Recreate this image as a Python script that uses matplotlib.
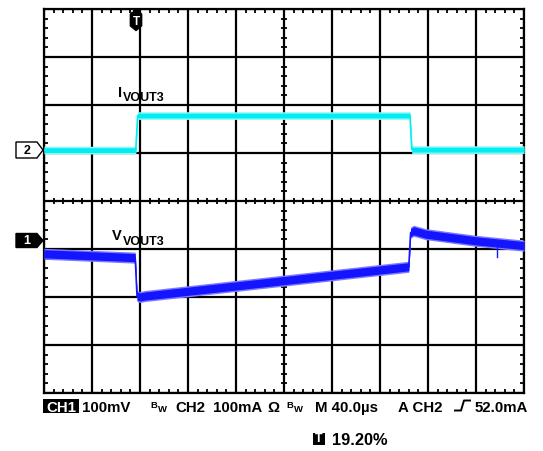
import numpy as np
import matplotlib
matplotlib.use('Agg')
import matplotlib.pyplot as plt
from matplotlib.patches import Polygon, Rectangle
from matplotlib.lines import Line2D

plt.rcParams['font.family'] = ['Liberation Sans', 'DejaVu Sans']

# scope settings
time_per_div = 40.0      # us
ch1_per_div = 100.0      # mV
ch2_per_div = 100.0      # mA
ch1_offset = -0.82       # divisions from centre
ch2_offset = 1.06

# CH1: V_VOUT3 (mV, relative to CH1 marker)
t_v = [0, 76.0, 77.5, 80.0, 84.0, 304.0, 305.5, 308.0, 318.0, 360.0, 400.0]
v_v = [-28, -36, -116, -118, -116, -55, 16, 20, 13, -1, -11]
# small glitch on CH1
t_glitch = [377.5, 377.5]
v_glitch = [-4, -34]

# CH2: I_VOUT3 (mA, relative to CH2 marker)
t_i = [0, 76.5, 78.0, 305.0, 306.5, 400.0]
i_i = [0, 0, 72, 72, 1, 1]

W, H = 543, 452
fig = plt.figure(figsize=(W / 100, H / 100), dpi=100)
ax = fig.add_axes([44 / W, 1 - 394 / H, 480 / W, 384 / H])
ax.set_xlim(0, 10 * time_per_div)
ax.set_ylim(-4, 4)


def fx(x):
    return x / W


def fy(y):
    return 1 - y / H


# graticule
ax.set_xticks(np.arange(0, 401, time_per_div))
ax.set_yticks(np.arange(-4, 5, 1))
ax.set_xticks(np.arange(0, 401, time_per_div / 5), minor=True)
ax.set_yticks(np.arange(-4, 4.01, 0.2), minor=True)
ax.grid(True, which='major', color='black', lw=1.6, zorder=1)
ax.tick_params(which='both', direction='in', length=3, width=1.3,
               top=True, right=True, labelbottom=False, labelleft=False,
               color='black')
for s in ax.spines.values():
    s.set_linewidth(1.6)
ax.set_axisbelow(True)
# ticks on the centre lines
ax.plot(np.arange(0, 401, time_per_div / 5), np.zeros(51), ls='none',
        marker='|', ms=4.5, mew=1.3, color='black', zorder=1.5)
ax.plot(np.full(41, 200.0), np.arange(-4, 4.01, 0.2), ls='none',
        marker='_', ms=4.5, mew=1.3, color='black', zorder=1.5)


def draw_trace(t, vals, per_div, offset, color, edge, half):
    y = np.array(vals) / per_div + offset
    ax.fill_between(t, y - half - 0.03, y + half + 0.03, color=edge,
                    lw=0, zorder=3)
    ax.fill_between(t, y - half, y + half, color=color, lw=0, zorder=3.5)
    ax.plot(t, y, color=color, lw=1.2, zorder=3.6)


draw_trace(t_i, i_i, ch2_per_div, ch2_offset, '#00eef2', '#8ff6fa', 0.05)
draw_trace(t_v, v_v, ch1_per_div, ch1_offset, '#1414ff', '#7a7aff', 0.085)
ax.plot(t_glitch, np.array(v_glitch) / ch1_per_div + ch1_offset,
        color='#1414ff', lw=1, zorder=3.6)

# trace labels
fig.text(fx(118), fy(97), 'I', fontsize=10.5, fontweight='bold')
fig.text(fx(123), fy(101), 'VOUT3', fontsize=9, fontweight='bold')
fig.text(fx(112), fy(240), 'V', fontsize=10.5, fontweight='bold')
fig.text(fx(123), fy(245), 'VOUT3', fontsize=9, fontweight='bold')

# channel markers
p2 = [(16, 143), (37, 143), (43, 151), (37, 159), (16, 159)]
fig.add_artist(Polygon([(fx(x), fy(y)) for x, y in p2], closed=True,
                       facecolor='white', edgecolor='black', lw=1,
                       transform=fig.transFigure))
fig.text(fx(27), fy(151), '2', fontsize=9, fontweight='bold',
         ha='center', va='center')
p1 = [(16, 234.5), (37, 234.5), (43, 241.5), (37, 248.5), (16, 248.5)]
fig.add_artist(Polygon([(fx(x), fy(y)) for x, y in p1], closed=True,
                       facecolor='black', edgecolor='black', lw=1,
                       transform=fig.transFigure))
fig.text(fx(27), fy(241.5), '1', fontsize=9, fontweight='bold',
         color='white', ha='center', va='center')

# trigger marker on top
pt = [(130, 15), (132, 13), (140, 13), (142, 15), (142, 27), (136, 32),
      (130, 27)]
fig.add_artist(Polygon([(fx(x), fy(y)) for x, y in pt], closed=True,
                       facecolor='black', edgecolor='black', lw=0.5,
                       transform=fig.transFigure, zorder=5))
fig.add_artist(Rectangle((fx(133), fy(13)), 6 / W, 3 / H, facecolor='black',
                         transform=fig.transFigure, zorder=5))
fig.text(fx(136), fy(22), 'T', fontsize=8.5, fontweight='bold',
         color='white', ha='center', va='center', zorder=6)

# status line
fs = 10.8
base = fy(412)
fig.add_artist(Rectangle((fx(43), fy(413.5)), 36 / W, 13.5 / H,
                         facecolor='black', transform=fig.transFigure))
fig.text(fx(61), base, 'CH1', fontsize=fs, fontweight='bold', color='white',
         ha='center', va='baseline')
fig.text(fx(82), base, '100mV', fontsize=fs, fontweight='bold')
for bx in (150, 286):
    fig.text(fx(bx), fy(408.5), 'B', fontsize=6.8, fontweight='bold')
    fig.text(fx(bx + 7.5), fy(412.5), 'W', fontsize=6.8, fontweight='bold')
fig.text(fx(175), base, 'CH2', fontsize=fs, fontweight='bold')
fig.text(fx(213), base, '100mA', fontsize=fs, fontweight='bold')
fig.text(fx(267.5), base, '\u03a9', fontsize=fs, fontweight='bold')
fig.text(fx(315), base, 'M 40.0\u00b5s', fontsize=fs, fontweight='bold')
fig.text(fx(398), base, 'A CH2', fontsize=fs, fontweight='bold')
fig.add_artist(Line2D([fx(455), fx(461), fx(464), fx(470)],
                      [fy(411.5), fy(411.5), fy(401.5), fy(401.5)],
                      color='black', lw=1.4, transform=fig.transFigure))
fig.text(fx(475), base, '52.0mA', fontsize=fs, fontweight='bold')

fig.add_artist(Rectangle((fx(313), fy(445.5)), 12 / W, 12 / H,
                         facecolor='black', transform=fig.transFigure))
fig.text(fx(319), fy(439.5), 'T', fontsize=9, fontweight='bold',
         color='white', ha='center', va='center')
fig.text(fx(332), fy(445.5), '19.20%', fontsize=11.8, fontweight='bold')

fig.savefig('out.png', dpi=100)
